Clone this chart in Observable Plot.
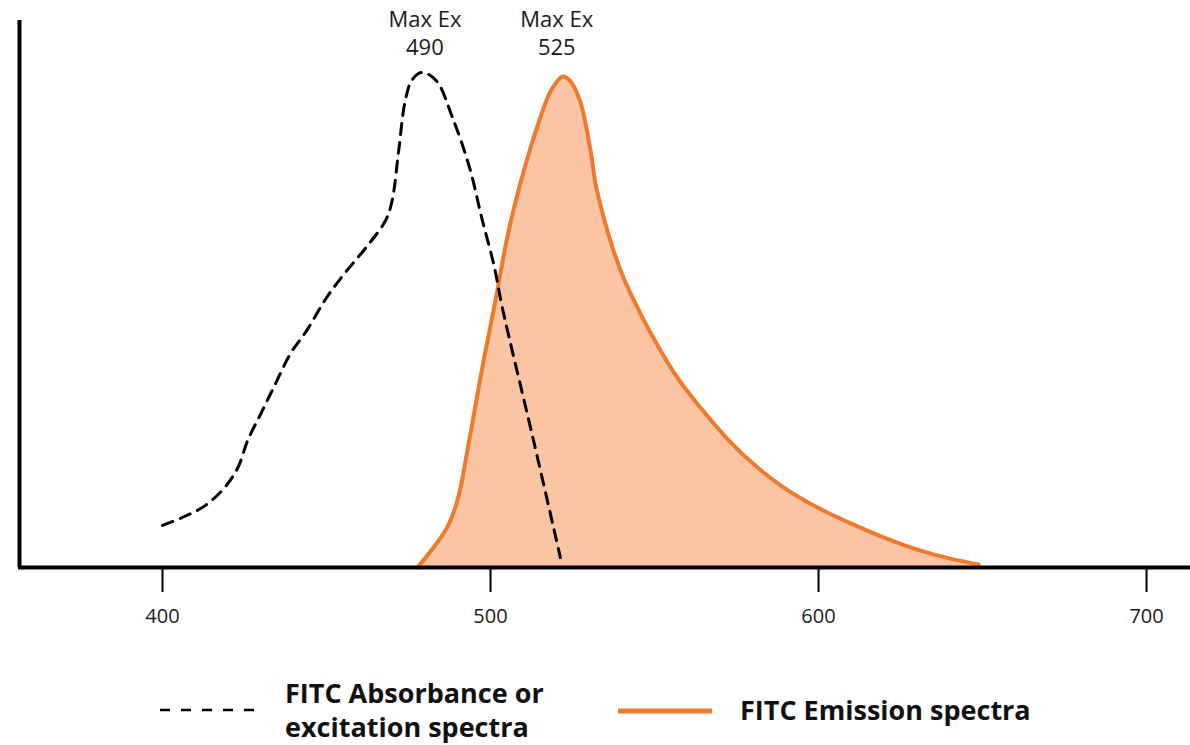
<!DOCTYPE html>
<html>
<head>
<meta charset="utf-8">
<script src="https://cdn.jsdelivr.net/npm/d3@7"></script>
<script src="https://cdn.jsdelivr.net/npm/@observablehq/plot@0.6"></script>
<style>
  body { margin: 0; background: #fff; font-family: "Open Sans", "Noto Sans", sans-serif; }
  #chart svg { display: block; overflow: visible; }
</style>
</head>
<body>
<div id="chart"></div>
<script>
// Excitation (absorbance) spectrum, dashed
const exWavelength = [400, 406, 413, 419, 423, 426, 430, 434.5, 439, 444, 450, 455.5, 462, 468, 470, 472, 474, 476, 479, 483.4, 488.4, 493.6, 497.3, 501.2, 503.6, 513.1, 521.3];
const exIntensity  = [8.5, 10.1, 12.5, 16.2, 20.2, 25.7, 31.1, 37.2, 43.2, 47.9, 54.5, 59.4, 64.6, 70.1, 74.1, 84.2, 94.3, 98.4, 100, 98.4, 90.9, 80.8, 70.7, 60.6, 52.5, 25.7, 2.0];
// Emission spectrum, orange filled
const emWavelength = [477.7, 482.7, 486.8, 489.3, 490.9, 492.4, 493.9, 497.9, 501.5, 505.1, 509.1, 515.2, 518.5, 522, 524.4, 527.4, 530.5, 532, 534.5, 537.5, 540.5, 544.8, 549.7, 556.7, 564, 572.6, 581.4, 589.3, 599.7, 609.8, 619.8, 631.1, 640.2, 648.8];
const emIntensity  = [0, 4.1, 8.1, 12.2, 16.2, 21.6, 27.1, 41.8, 53.9, 66.7, 77.6, 90.9, 96.4, 99.2, 98.2, 94.0, 84.2, 77.6, 70.7, 64.0, 58.6, 52.5, 46.3, 38.6, 32.3, 25.7, 20.2, 16.2, 12.1, 8.9, 6.1, 3.4, 1.8, 0.6];
// Peak labels
const peakLabels = [
  {x: 480, text: "Max Ex\n490"},
  {x: 520.2, text: "Max Ex\n525"}
];
const xTicks = [400, 500, 600, 700];
const legendItems = ["FITC Absorbance or\nexcitation spectra", "FITC Emission spectra"];

const ex = exWavelength.map((w, i) => ({w, v: exIntensity[i]}));
const em = emWavelength.map((w, i) => ({w, v: emIntensity[i]}));

const xDomain = [356.1, 713.4];
const plot = Plot.plot({
  width: 1190,
  height: 640,
  marginLeft: 18,
  marginRight: 0,
  marginTop: 20,
  marginBottom: 73,
  style: {fontFamily: "'Open Sans', 'Noto Sans', sans-serif", fontSize: "20px", color: "#1a1a1a", background: "#fff"},
  x: {domain: xDomain},
  y: {domain: [0, 110.5], axis: null},
  marks: [
    Plot.areaY(em, {x: "w", y: "v", fill: "#fbc5a3", curve: "catmull-rom"}),
    Plot.lineY(em, {x: "w", y: "v", stroke: "#f07a2b", strokeWidth: 4, curve: "catmull-rom"}),
    Plot.lineY(ex, {x: "w", y: "v", stroke: "#000", strokeWidth: 3, strokeDasharray: "11,8", curve: "catmull-rom"}),
    Plot.ruleY([0], {stroke: "#000", strokeWidth: 4}),
    Plot.ruleX([xDomain[0]], {stroke: "#000", strokeWidth: 4, dx: 1}),
    Plot.axisX({ticks: xTicks, tickSize: 25, tickPadding: 16, tickFormat: d => String(d), strokeWidth: 2, fontSize: 20, label: null, stroke: "#000"}),
    Plot.text(peakLabels, {x: "x", y: 110.5, text: "text", lineAnchor: "top", fontSize: 22, lineHeight: 1.25, fill: "#1a1a1a", dy: -13})
  ]
});
document.getElementById("chart").appendChild(plot);

// Legend (below the plot)
const leg = d3.select("#chart").append("svg").attr("width", 1190).attr("height", 105)
  .style("font-family", "'Open Sans', 'Noto Sans', sans-serif");
leg.append("line").attr("x1", 160).attr("x2", 256).attr("y1", 70).attr("y2", 70)
  .attr("stroke", "#000").attr("stroke-width", 2.5).attr("stroke-dasharray", "10,11");
const t1 = leg.append("text").attr("x", 285).attr("y", 63).attr("font-size", 27).attr("font-weight", 700).attr("fill", "#111");
legendItems[0].split("\n").forEach((s, i) => t1.append("tspan").attr("x", 285).attr("dy", i ? 34 : 0).text(s));
leg.append("line").attr("x1", 618).attr("x2", 712).attr("y1", 71).attr("y2", 71)
  .attr("stroke", "#f07a2b").attr("stroke-width", 5);
leg.append("text").attr("x", 740).attr("y", 80).attr("font-size", 27).attr("font-weight", 700).attr("fill", "#111").text(legendItems[1]);
</script>
</body>
</html>
